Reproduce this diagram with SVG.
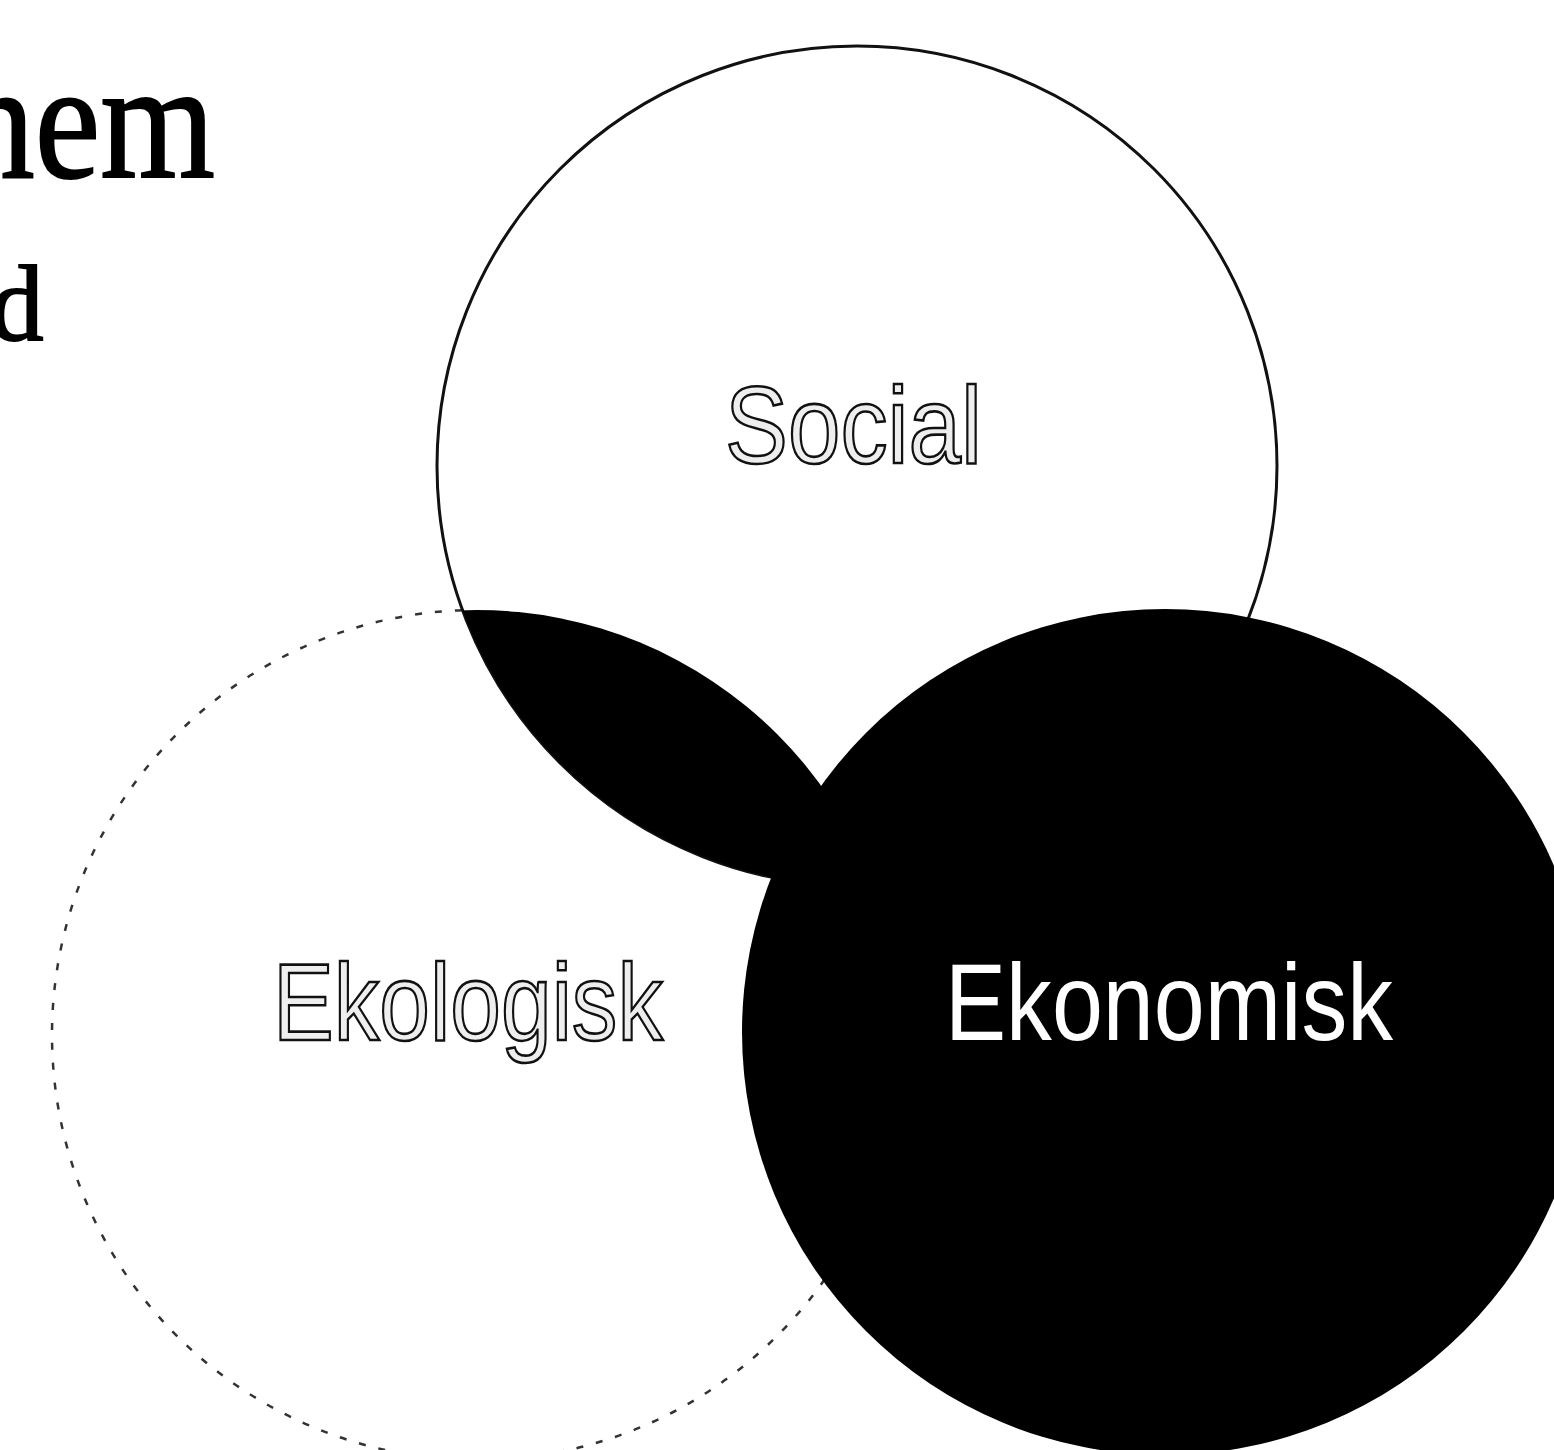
<svg xmlns="http://www.w3.org/2000/svg" width="1554" height="1450" viewBox="0 0 1554 1450">
  <style>
    .title { font-family: "Liberation Serif", "Times New Roman", serif; font-weight: normal; fill: #000; stroke: #000; stroke-width: 2; }
    .lbl { font-family: "Liberation Sans", Arial, sans-serif; font-size: 110px; }
    .lbl-outline { fill: #eeeeee; stroke: #111; stroke-width: 2.6; }
    .lbl-white { fill: #fff; }
    .ring { fill: #fff; stroke: #111; stroke-width: 3; }
    .ring-dashed { fill: none; stroke: #333; stroke-width: 2.5; stroke-dasharray: 7 13; }
    .solid { fill: #000; }
  </style>
  <defs>
    <clipPath id="clipSocial">
      <circle cx="857" cy="466" r="420"/>
    </clipPath>
  </defs>
  <rect x="0" y="0" width="1554" height="1450" fill="#fff"/>

  <g id="title">
    <text class="title" x="-39" y="177" font-size="168" textLength="254" lengthAdjust="spacingAndGlyphs">nem</text>
    <text class="title" x="-10" y="340" font-size="107">d</text>
  </g>

  <g id="node-ekologisk">
    <circle class="ring-dashed" cx="477" cy="1035" r="425"/>
  </g>

  <g id="node-social">
    <circle class="ring" cx="857" cy="466" r="420"/>
  </g>

  <g id="overlap-social-ekologisk">
    <circle class="solid" cx="477" cy="1035" r="425" clip-path="url(#clipSocial)"/>
  </g>

  <g id="node-ekonomisk">
    <circle class="solid" cx="1165" cy="1032" r="423"/>
  </g>

  <g id="connectors"></g>

  <g id="labels">
    <text class="lbl lbl-outline" x="725" y="463" textLength="257" lengthAdjust="spacingAndGlyphs">Social</text>
    <text class="lbl lbl-outline" x="273" y="1040" textLength="390" lengthAdjust="spacingAndGlyphs">Ekologisk</text>
    <text class="lbl lbl-white" x="945" y="1040" textLength="448" lengthAdjust="spacingAndGlyphs">Ekonomisk</text>
  </g>
</svg>
